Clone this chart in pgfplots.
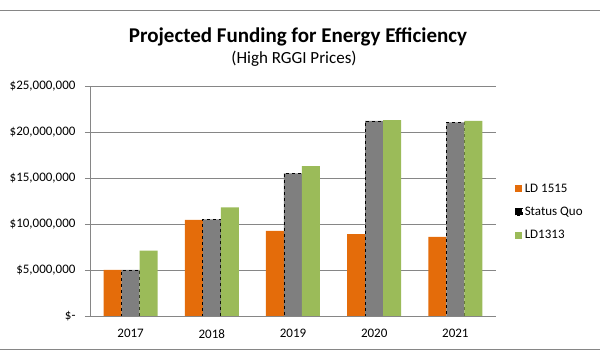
\documentclass[border=0pt]{standalone}
\usepackage{pgfplots}
\pgfplotsset{compat=1.18}
\usepackage{fontspec}
\setmainfont{Carlito}
\definecolor{ldorange}{HTML}{E46C0A}
\definecolor{sqgray}{HTML}{7F7F7F}
\definecolor{ldgreen}{HTML}{9BBB59}
\definecolor{gridc}{HTML}{868686}
\begin{document}
\begin{tikzpicture}
\path[use as bounding box] (0bp,0bp) rectangle (600bp,357bp);
\draw[gridc, line width=1bp] (0bp,346bp) -- (600bp,346bp);
\draw[gridc, line width=1bp] (0bp,7bp) -- (600bp,7bp);
\node[font=\fontsize{21bp}{23bp}\selectfont\bfseries] at (298bp,320bp) {Projected Funding for Energy Efficiency};
\node[font=\fontsize{17bp}{19bp}\selectfont] at (294bp,298bp) {(High RGGI Prices)};
\begin{axis}[
  at={(90bp,41bp)}, anchor=south west,
  scale only axis, width=406bp, height=230bp,
  ybar=0pt, bar width=18bp,
  xmin=-0.5, xmax=4.5, ymin=0, ymax=25000000,
  axis x line*=bottom, axis y line*=left,
  axis line style={gridc, line width=0.8bp},
  ytick={0,5000000,10000000,15000000,20000000,25000000},
  yticklabels={{\$-\hspace{10bp}},{\$5,000,000},{\$10,000,000},{\$15,000,000},{\$20,000,000},{\$25,000,000}},
  scaled y ticks=false,
  ymajorgrids, grid style={gridc, line width=0.8bp},
  ytick style={gridc, line width=0.8bp},
  tick align=outside, major tick length=5bp,
  xtick={0,1,2,3,4}, xticklabels={2017,2018,2019,2020,2021},
  xtick style={draw=none},
  extra x ticks={-0.5,0.5,1.5,2.5,3.5,4.5}, extra x tick labels={},
  extra x tick style={tick style={gridc, line width=0.8bp}, major tick length=5bp, grid=none},
  ticklabel style={font=\fontsize{13bp}{15bp}\selectfont},
  yticklabel style={xshift=-6bp},
  xticklabel style={yshift=-5bp},
  legend style={at={(1,0.5)}, anchor=west, xshift=16bp, yshift=-11bp, draw=none, fill=none,
    font=\fontsize{13bp}{15bp}\selectfont, row sep=9.5bp},
  legend cell align=left,
]
\addplot[fill=ldorange, draw=none, legend image code/.code={\fill[ldorange] (0bp,-3.5bp) rectangle (7bp,3.5bp);}]
  coordinates {(0,5000000) (1,10450000) (2,9250000) (3,8900000) (4,8600000)};
\addplot[fill=sqgray, draw=black, dashed, line width=0.6bp, legend image code/.code={\fill[sqgray] (0bp,-3.5bp) rectangle (7bp,3.5bp); \draw[black, line width=0.6bp] (0bp,-3.5bp) rectangle (7bp,3.5bp);}]
  coordinates {(0,5000000) (1,10500000) (2,15500000) (3,21200000) (4,21050000)};
\addplot[fill=ldgreen, draw=none, legend image code/.code={\fill[ldgreen] (0bp,-3.5bp) rectangle (7bp,3.5bp);}]
  coordinates {(0,7100000) (1,11800000) (2,16300000) (3,21300000) (4,21200000)};
\legend{LD 1515, Status Quo, LD1313}
\end{axis}
\end{tikzpicture}
\end{document}
